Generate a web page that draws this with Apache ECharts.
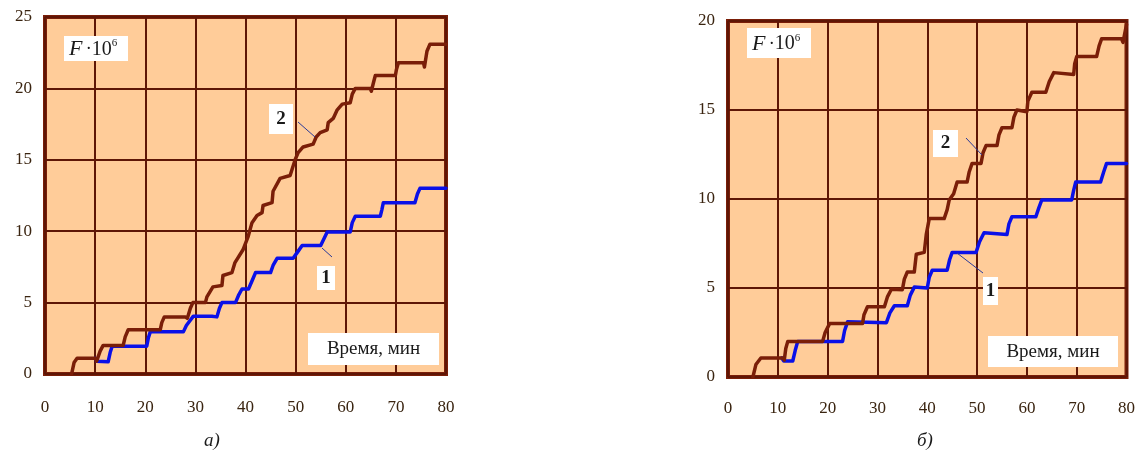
<!DOCTYPE html>
<html>
<head>
<meta charset="utf-8">
<script src="https://cdn.jsdelivr.net/npm/echarts@6/dist/echarts.min.js"></script>
<style>
html,body{margin:0;padding:0;background:#fff;}
#c{width:1138px;height:456px;}
</style>
</head>
<body>
<div id="c"></div>
<script>
// ---- data (time in min, F·10^6) ----
const xTicks = [0, 10, 20, 30, 40, 50, 60, 70, 80];
const yTicksA = [0, 5, 10, 15, 20, 25];
const yTicksB = [0, 5, 10, 15, 20];

// panel a), curve 2 (brown)
const a2 = [[5.3,0],[5.8,0.8],[6.4,1.1],[10,1.1],[10.3,0.9],[11,1.6],[11.6,2],[15.6,2],[16,2.6],[16.6,3.1],[23,3.1],[23.3,3.6],[23.8,4],[28,4],[28.4,3.9],[29,4.6],[29.5,5],[32,5],[32.3,5.4],[33.5,6.1],[35.3,6.2],[35.5,6.9],[37.3,7.1],[37.9,7.8],[39.5,8.7],[40.5,9.6],[41.3,10.6],[42.3,11.1],[43.3,11.3],[43.5,11.8],[45.3,12],[45.5,12.8],[46.9,13.7],[48.9,13.9],[49.9,15],[50.5,15.5],[51.5,15.9],[53.5,16.1],[54.1,16.6],[54.9,16.9],[56.3,17.1],[56.5,17.6],[57.5,17.9],[58.3,18.5],[59.3,18.9],[60.9,19],[61.3,19.6],[61.9,20],[64.9,20],[65.1,19.8],[65.6,20.5],[65.9,20.9],[69.9,20.9],[70.1,21.3],[70.5,21.8],[75.5,21.8],[75.7,21.5],[76.2,22.6],[76.8,23.1],[80,23.1]];
// panel a), curve 1 (blue)
const a1 = [[10,1.1],[10.3,0.9],[12.6,0.85],[13,1.5],[13.4,1.95],[20.3,1.95],[20.6,2.5],[21,2.95],[27.6,2.95],[28.2,3.4],[29.6,4.05],[33.3,4.05],[34.3,4.0],[34.8,4.6],[35.3,5],[38,5],[38.6,5.5],[39.3,5.95],[40.6,5.95],[41.4,6.6],[42,7.1],[45,7.1],[45.5,7.6],[46.3,8.1],[49.5,8.1],[50.3,8.5],[51.3,9],[55,9],[55.7,9.5],[56.3,9.95],[60.9,9.95],[61.3,10.6],[61.9,11.05],[66.9,11.05],[67.2,11.5],[67.5,12],[73.8,12],[74.3,12.6],[74.8,13],[80,13]];
// panel б), curve 2 (brown)
const b2 = [[5,0],[5.6,0.7],[6.6,1.07],[11,1.07],[11.3,0.95],[11.6,1.6],[12,2],[19,2],[19.5,2.5],[20.4,3],[27,3],[27.3,3.5],[28,3.95],[31.4,3.95],[32,4.5],[32.8,4.93],[35,4.9],[35.4,5.5],[36,5.9],[37.4,5.9],[37.8,6.9],[39.4,7],[39.8,8],[40.4,8.9],[43.4,8.9],[44,9.4],[44.4,9.94],[45.3,10.3],[46,10.95],[48,10.95],[48.4,11.5],[49,12],[50.8,12],[51.2,12.6],[51.8,13],[54,13],[54.4,13.6],[55,14],[57,14],[57.4,14.6],[58,15],[60,14.9],[60.2,15.5],[61,16],[63.8,16],[64.5,16.6],[65.4,17.1],[69.4,17],[69.6,17.6],[70,18],[74,18],[74.5,18.6],[75,19],[79,19],[79.3,18.8],[80,19.8]];
// panel б), curve 1 (blue)
const b1 = [[10.8,1.07],[11.2,0.9],[13,0.9],[13.5,1.5],[14,2],[23,2],[23.4,2.6],[24,3.1],[31.8,3.05],[32.5,3.6],[33.4,4],[36,4],[36.6,4.6],[37.4,5.05],[40,5],[40.4,5.6],[41,6],[44,6],[44.5,6.6],[45,7],[49.8,7],[50.5,7.6],[51.4,8.1],[56,8],[56.4,8.6],[57,9],[61.8,9],[62.4,9.5],[63,9.95],[69,9.95],[69.4,10.5],[69.8,10.95],[74.8,10.95],[75.4,11.5],[76,12],[80,12]];

const xLabelText = 'Время, мин';
const yLabelMain = 'F';
const panelLabels = ['а)', 'б)'];
const curveLabels = ['1', '2'];

// ---- styling ----
const BROWN = '#7a1e08';
const BLUE = '#0a10e8';
const GRID = '#5e1606';
const BG = '#ffcc99';
const SERIF = '"Liberation Serif", "DejaVu Serif", serif';
const TICKFONT = SERIF;

const chart = echarts.init(document.getElementById('c'), null, {renderer: 'canvas'});

function xAx(gi, margin) {
  return {
    type: 'value', gridIndex: gi, min: 0, max: 80, interval: 10,
    axisLine: {show: false}, axisTick: {show: false},
    splitLine: {show: true, lineStyle: {color: GRID, width: 2}},
    axisLabel: {margin: margin, fontFamily: TICKFONT, fontSize: 17, color: '#3a2410',
      formatter: v => xTicks.includes(v) ? String(v) : ''}
  };
}
function yAx(gi, max, ticks, margin) {
  return {
    type: 'value', gridIndex: gi, min: 0, max: max, interval: 5,
    axisLine: {show: false}, axisTick: {show: false},
    splitLine: {show: true, lineStyle: {color: GRID, width: 2}},
    axisLabel: {margin: margin, fontFamily: TICKFONT, fontSize: 17, color: '#3a2410',
      formatter: v => ticks.includes(v) ? String(v) : ''}
  };
}
function line(data, color, xi, yi, z) {
  return {
    type: 'line', xAxisIndex: xi, yAxisIndex: yi, data: data,
    showSymbol: false, smooth: false, z: z,
    lineStyle: {color: color, width: 3.5, join: 'round', cap: 'round'},
    animation: false
  };
}

function box(x, y, w, h) {
  return {type: 'rect', shape: {x: x, y: y, width: w, height: h}, style: {fill: '#ffffff'}, z: 100};
}
function txt(x, y, text, opts) {
  return {type: 'text', x: x, y: y, z: 101,
    style: Object.assign({text: text, fill: '#1a1a1a', fontFamily: SERIF, fontSize: 20,
      align: 'center', verticalAlign: 'middle'}, opts || {})};
}
function leader(x1, y1, x2, y2) {
  return {type: 'line', shape: {x1: x1, y1: y1, x2: x2, y2: y2}, z: 99,
    style: {stroke: '#2a3a9a', lineWidth: 1}};
}
function fLabel(x, y, w, h) {
  return [box(x, y, w, h), {
    type: 'text', x: x + 5, y: y + h / 2 + 1, z: 101,
    style: {
      text: '{f|' + yLabelMain + '} {d|·}{n|10}{s|6}',
      verticalAlign: 'middle', align: 'left',
      rich: {
        f: {fontFamily: SERIF, fontStyle: 'italic', fontSize: 22, fill: '#1a1a1a'},
        d: {fontFamily: SERIF, fontSize: 18, fill: '#1a1a1a'},
        n: {fontFamily: SERIF, fontSize: 20, fill: '#1a1a1a'},
        s: {fontFamily: SERIF, fontSize: 11, fill: '#1a1a1a', verticalAlign: 'top', padding: [0, 0, 12, 0]}
      }
    }
  }];
}

const graphics = [].concat(
  fLabel(64, 36, 64, 25),
  fLabel(747, 28, 64, 30),
  [box(308, 333, 131, 32), txt(373.5, 349, xLabelText, {fontSize: 19})],
  [box(988, 336, 130, 31), txt(1053, 352, xLabelText, {fontSize: 19})],
  [box(269, 104, 24, 30), txt(281, 119, curveLabels[1], {fontWeight: 'bold', fontSize: 19})],
  [box(317, 266, 18, 24), txt(326, 278, curveLabels[0], {fontWeight: 'bold', fontSize: 19})],
  [box(933, 130, 25, 27), txt(945.5, 143.5, curveLabels[1], {fontWeight: 'bold', fontSize: 19})],
  [box(983, 277, 15, 28), txt(990.5, 291, curveLabels[0], {fontWeight: 'bold', fontSize: 19})],
  [leader(298, 122, 315, 137), leader(322, 248, 332, 257), leader(966, 138, 982, 155), leader(957, 253, 983, 273)],
  [txt(212, 441, panelLabels[0], {fontStyle: 'italic', fontSize: 19}),
   txt(925, 441, panelLabels[1], {fontStyle: 'italic', fontSize: 19})]
);

chart.setOption({
  animation: false,
  backgroundColor: '#ffffff',
  grid: [
    {left: 45, top: 17, width: 401, height: 357, show: true, backgroundColor: BG, borderColor: BROWN, borderWidth: 4, containLabel: false},
    {left: 728, top: 21, width: 400, height: 356, show: true, backgroundColor: BG, borderColor: BROWN, borderWidth: 4, containLabel: false}
  ],
  xAxis: [xAx(0, 25), xAx(1, 23)],
  yAxis: [yAx(0, 25, yTicksA, 13), yAx(1, 20, yTicksB, 13)],
  series: [
    line(a1, BLUE, 0, 0, 3),
    line(a2, BROWN, 0, 0, 4),
    line(b1, BLUE, 1, 1, 3),
    line(b2, BROWN, 1, 1, 4)
  ],
  graphic: graphics
});
</script>
</body>
</html>
